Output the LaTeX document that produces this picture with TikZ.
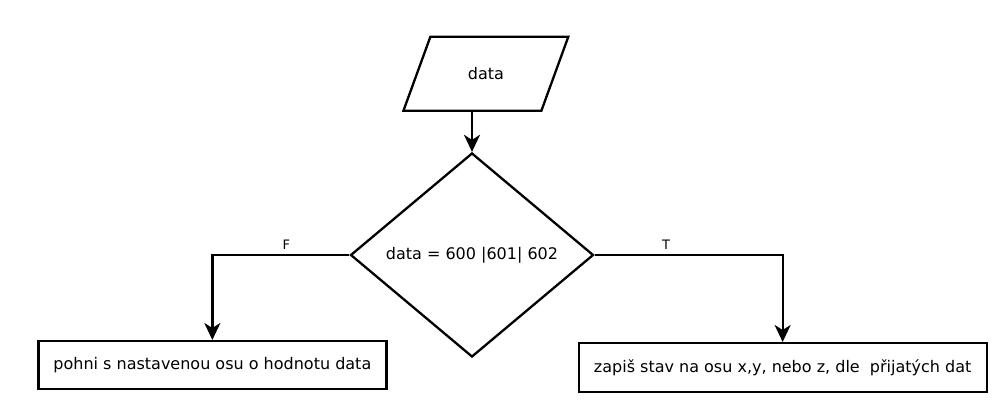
\documentclass[tikz,border=0pt]{standalone}
\usepackage{fontspec}
\setmainfont{DejaVu Sans}
\usepackage{tikz}
\usetikzlibrary{positioning, shapes.geometric, arrows.meta}
\tikzstyle{Vstup}=[trapezium, trapezium left angle=70, trapezium right angle=110, draw=black, line width=2.3pt, text width=36pt, align=center, text height=12pt, text depth=0pt, inner xsep=37.5pt, inner ysep=31pt, font=\fontsize{16}{19}\selectfont]
\tikzstyle{Rozhodnuti}=[diamond, draw=black, line width=2.3pt, minimum width=243pt, minimum height=204pt, inner sep=0pt, font=\fontsize{16}{19}\selectfont]
\tikzstyle{Akce}=[rectangle, draw=black, line width=2.3pt, minimum height=48pt, inner sep=0pt, font=\fontsize{16}{19}\selectfont]
\tikzstyle{Popisek}=[font=\fontsize{13}{15}\selectfont, inner sep=1pt]
\tikzstyle{Sipka}=[-{Stealth[length=17pt, width=16pt, inset=5pt]}, line width=2.3pt]

\begin{document}
\begin{tikzpicture}[x=1pt, y=1pt]
			\useasboundingbox (0,0) rectangle (1001,-405);

			%Uzly
			\node[Rozhodnuti]	(podminka)	at (472,-255)	{data = 600 |601| 602};
			\node[Vstup, anchor=bottom side]	(data)	at ([yshift=40pt]podminka.north)	{data};

			\node[Akce, minimum width=348pt, anchor=north]	(pohyb)	at ([xshift=-137pt, yshift=-85pt]podminka.west)	{pohni s nastavenou osu o hodnotu data};
			\node[Akce, minimum width=408pt, minimum height=49pt, anchor=north]	(zapis)	at ([xshift=188pt, yshift=-87pt]podminka.east)	{zapiš stav na osu x,y, nebo z, dle\ \ přijatých dat};

			%Cary
			\draw[Sipka] (data.bottom side) -- (podminka.north);
			\draw[Sipka] (podminka.west) -| node[Popisek, pos=0.23, above=3pt] {F} (pohyb.north);
			\draw[Sipka] (podminka.east) -| node[Popisek, pos=0.19, above=3pt] {T} (zapis.north);

		\end{tikzpicture}
\end{document}
